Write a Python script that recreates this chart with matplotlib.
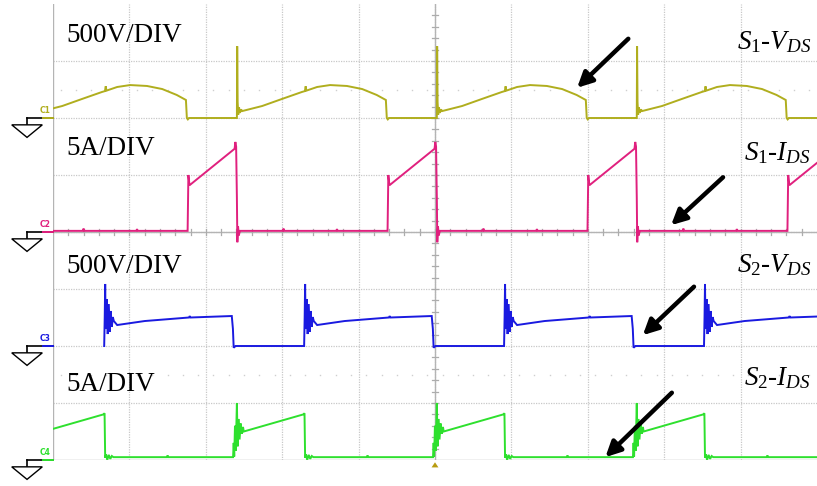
import numpy as np
import matplotlib
matplotlib.use("Agg")
import matplotlib.pyplot as plt
from matplotlib.patches import Polygon

plt.rcParams['font.family'] = ['Liberation Serif', 'DejaVu Serif']
plt.rcParams['mathtext.fontset'] = 'custom'
plt.rcParams['mathtext.rm'] = 'Liberation Serif'
plt.rcParams['mathtext.it'] = 'Liberation Serif:italic'

# ---------------- data (time in screen divisions) ----------------
# instants of S1 turn-off (C1 spike)
cycle_starts = [-0.21, 2.407, 5.024, 7.641, 10.258]

# C1: S1 V_DS (V), offsets from cycle start
c1_t = [0.000, 0.004, 0.010, 0.018, 0.028, 0.040, 0.055, 0.070, 0.33, 0.59, 0.85, 0.89,
        0.90, 0.91, 1.05, 1.22, 1.44, 1.64, 1.83, 1.95, 1.962, 1.975, 1.99, 2.61]
c1_v = [0, 630, 140, 30, 95, 45, 75, 61, 105, 167, 228, 236,
        278, 240, 272, 289, 281, 254, 202, 158, 0, -12, 0, 0]

# C2: S1 I_DS (A)
c2_t = [-0.66, -0.645, -0.64, -0.635, -0.62, -0.03, -0.02, -0.01, 0.000, 0.006,
        0.015, 0.025, 0.040, 0.60, 0.61, 0.62, 1.30, 1.31, 1.32, 1.95]
c2_v = [0.1, 0.1, 2.5, 5.0, 4.1, 7.3, 7.9, 7.5, 3.0, -0.9,
        0.5, -0.3, 0.1, 0.1, 0.3, 0.1, 0.1, 0.25, 0.1, 0.1]

# C3: S2 V_DS (V)
c3_t = [0.880, 0.887, 0.893, 0.900, 0.913, 0.926, 0.940, 0.953, 0.966, 0.980, 0.993,
        1.006, 1.05, 1.41, 1.99, 2.00, 2.01, 2.55, 2.565, 2.575, 2.60, 3.49]
c3_v = [0, 250, 544, 149, 412, 105, 368, 123, 307, 167, 254,
        219, 184, 219, 250, 262, 250, 263, 150, -15, 0, 0]

# C4: S2 I_DS (A)
c4_t = [-0.060, -0.050, -0.042, -0.035, -0.025, -0.015, 0.000, 0.010, 0.020, 0.035,
        0.050, 0.065, 0.080, 0.090, 0.870, 0.885, 0.893, 0.905, 0.920, 0.940, 0.960,
        0.980, 1.000, 1.70, 1.71, 1.72, 2.55]
c4_v = [0.25, 0.25, 1.5, 0.3, 3.0, 0.8, 5.0, 1.2, 3.6, 1.8,
        3.2, 2.3, 2.9, 2.5, 4.0, 4.1, 0.2, 0.5, 0.0, 0.45, 0.1,
        0.35, 0.25, 0.25, 0.4, 0.25, 0.25]

channel_names = ["C1", "C2", "C3", "C4"]
scales = [500.0, 5.0, 500.0, 5.0]        # units per division
offsets = [6, 4, 2, 0]                    # ground level, divisions
colors = ["#b0ae1e", "#e0207e", "#1a1ae0", "#2ee02e"]
left_labels = ["500V/DIV", "5A/DIV", "500V/DIV", "5A/DIV"]
right_labels = [r"$S_{\mathit{1}}$-$V_{DS}$", r"$S_{\mathit{1}}$-$I_{DS}$",
                r"$S_{\mathit{2}}$-$V_{DS}$", r"$S_{\mathit{2}}$-$I_{DS}$"]

templates = [(c1_t, c1_v), (c2_t, c2_v), (c3_t, c3_v), (c4_t, c4_v)]

# ---------------- figure ----------------
W, H = 817, 486
fig = plt.figure(figsize=(W / 100, H / 100), dpi=100)
ax = fig.add_axes([53 / W, 26 / H, 764 / W, 456 / H])
ax.set_xlim(0, 10)
ax.set_ylim(0, 8)
ax.axis('off')

grid_c = "#c8c8c8"
for x in range(1, 10):
    ax.plot([x, x], [0, 8], color=grid_c, lw=0.9, ls=(0, (1, 1)), zorder=1)
for y in range(1, 8):
    ax.plot([0, 10], [y, y], color=grid_c, lw=0.9, ls=(0, (1, 1)), zorder=1)
ax.plot([0, 0], [0, 8], color="#b4b4b4", lw=1.0, zorder=1)
ax.plot([0, 10], [0, 0], color="#b4b4b4", lw=1.0, zorder=1)
# sparse dotted lines
xs = np.arange(0.1, 10, 0.2)
for y in [6.5, 1.5]:
    ax.plot(xs, np.full_like(xs, y), ls='none', marker='s', ms=1.0, mew=0,
            color="#cfcfcf", zorder=1)
# center axes with ticks
ax.plot([5, 5], [0, 8], color="#b4b4b4", lw=1.0, zorder=1)
ax.plot([0, 10], [4, 4], color="#b4b4b4", lw=1.0, zorder=1)
for yy in np.arange(0.2, 8, 0.2):
    ax.plot([4.96, 5.04], [yy, yy], color="#acacac", lw=0.9, zorder=1)
for xx in np.arange(0.2, 10, 0.2):
    ax.plot([xx, xx], [3.94, 4.06], color="#acacac", lw=0.9, zorder=1)

# traces
for (tt, vv), sc, off, col in zip(templates, scales, offsets, colors):
    T, V = [], []
    for c in cycle_starts:
        T.extend(c + np.array(tt))
        V.extend(vv)
    T = np.array(T)
    V = np.array(V)
    ax.plot(T, off + V / sc, color=col, lw=1.4, zorder=3, solid_joinstyle='miter')

# ground symbols and channel tags
for name, off, col in zip(channel_names, offsets, colors):
    ax.plot([-0.34, 0], [off, off], color='black', lw=1.2, clip_on=False, zorder=4)
    ax.plot([-0.34, -0.34], [off, off - 0.12], color='black', lw=1.2, clip_on=False, zorder=4)
    tri = Polygon([[-0.54, off - 0.12], [-0.14, off - 0.12], [-0.34, off - 0.34]],
                  closed=True, facecolor='white', edgecolor='black', lw=1.0, clip_on=False, zorder=4)
    ax.add_patch(tri)
    ax.plot([-0.13, 0], [off, off], color=col, lw=1.4, clip_on=False, zorder=5)
    ax.text(-0.10, off + 0.13, name, color=col, fontsize=5.5, ha='center', va='center',
            family='DejaVu Sans', fontweight='bold', clip_on=False)

# trigger marker
ax.add_patch(Polygon([[4.955, -0.13], [5.045, -0.13], [5.0, -0.04]], closed=True,
                     facecolor='#b89c10', edgecolor='none', clip_on=False, zorder=5))

# labels
left_y = [7.44, 5.46, 3.39, 1.33]
right_y = [7.33, 5.39, 3.42, 1.44]
for lab, y in zip(left_labels, left_y):
    ax.text(0.18, y, lab, fontsize=19.5, ha='left', va='center', color='black', zorder=6)
for lab, y in zip(right_labels, right_y):
    ax.text(9.92, y, lab, fontsize=19.5, ha='right', va='center', color='black',
            fontstyle='italic', zorder=6)

# arrows
arrows = [((7.53, 7.39), (6.86, 6.53)), ((8.77, 4.96), (8.09, 4.12)),
          ((8.39, 3.04), (7.72, 2.19)), ((8.10, 1.18), (7.23, 0.05))]
for tail, tip in arrows:
    ax.annotate('', xy=tip, xytext=tail,
                arrowprops=dict(arrowstyle='-|>,head_length=0.9,head_width=0.45', lw=3.2,
                                color='black', shrinkA=0, shrinkB=0), zorder=7)

fig.savefig("out.png", dpi=100, facecolor='white')
